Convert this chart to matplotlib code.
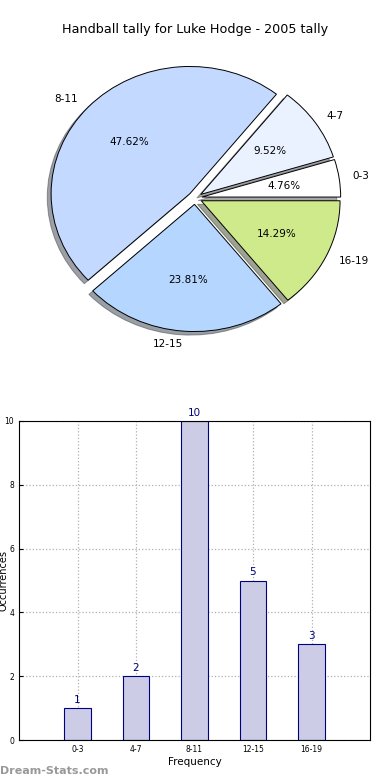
import matplotlib
matplotlib.use("Agg")
import matplotlib.pyplot as plt

# handball counts per frequency band
bands = ["0-3", "4-7", "8-11", "12-15", "16-19"]
counts = [1, 2, 10, 5, 3]
pie_colors = ["#ffffff", "#eaf1ff", "#c4d9ff", "#b4d6ff", "#cfea8a"]

fig = plt.figure(figsize=(3.9, 7.8), dpi=100)

# ---- pie -------------------------------------------------------------------
ax1 = fig.add_axes([21.5 / 390, 423 / 780, 347 / 390, 318 / 780])
ax1.pie(counts, labels=bands, colors=pie_colors, explode=[0.05] * 5,
        autopct="%1.2f%%", shadow=True, startangle=0,
        wedgeprops=dict(edgecolor="black", linewidth=0.7),
        textprops=dict(fontsize=7.5))
ax1.set_aspect("auto")
ax1.set_xlim(-1.25, 1.25); ax1.set_ylim(-1.25, 1.25)
fig.text(0.5, 1 - 30 / 780, "Handball tally for Luke Hodge - 2005 tally",
         ha="center", va="center", fontsize=9.2)

# ---- bars ------------------------------------------------------------------
ax2 = fig.add_axes([19 / 390, 40 / 780, 351 / 390, 319 / 780])
xs = list(range(len(bands)))
ax2.bar(xs, counts, width=0.45, color="#ccccE6", edgecolor="navy", linewidth=0.8,
        zorder=2)
for x, c in zip(xs, counts):
    ax2.text(x, c + 0.1, str(c), ha="center", va="bottom", color="navy", fontsize=7.5)
ax2.set_xlim(-1, 5); ax2.set_ylim(0, 10)
ax2.set_xticks(xs); ax2.set_xticklabels(bands)
ax2.set_yticks(range(0, 11, 2))
ax2.tick_params(labelsize=5.5, direction="in", length=3)
ax2.grid(True, ls=":", color="#b0b0b0", lw=0.9, zorder=0)
ax2.set_axisbelow(True)
ax2.set_xlabel("Frequency", fontsize=7.5, labelpad=2)
fig.text(-0.004, 0.5 * (40 + 359) / 780, "Occurrences", rotation=90,
         ha="left", va="center", fontsize=7)

fig.text(0.0, 9 / 780, "Dream-Stats.com", color="#999999", fontsize=8,
         fontweight="bold", ha="left", va="center")

fig.savefig("out.png", dpi=100)
